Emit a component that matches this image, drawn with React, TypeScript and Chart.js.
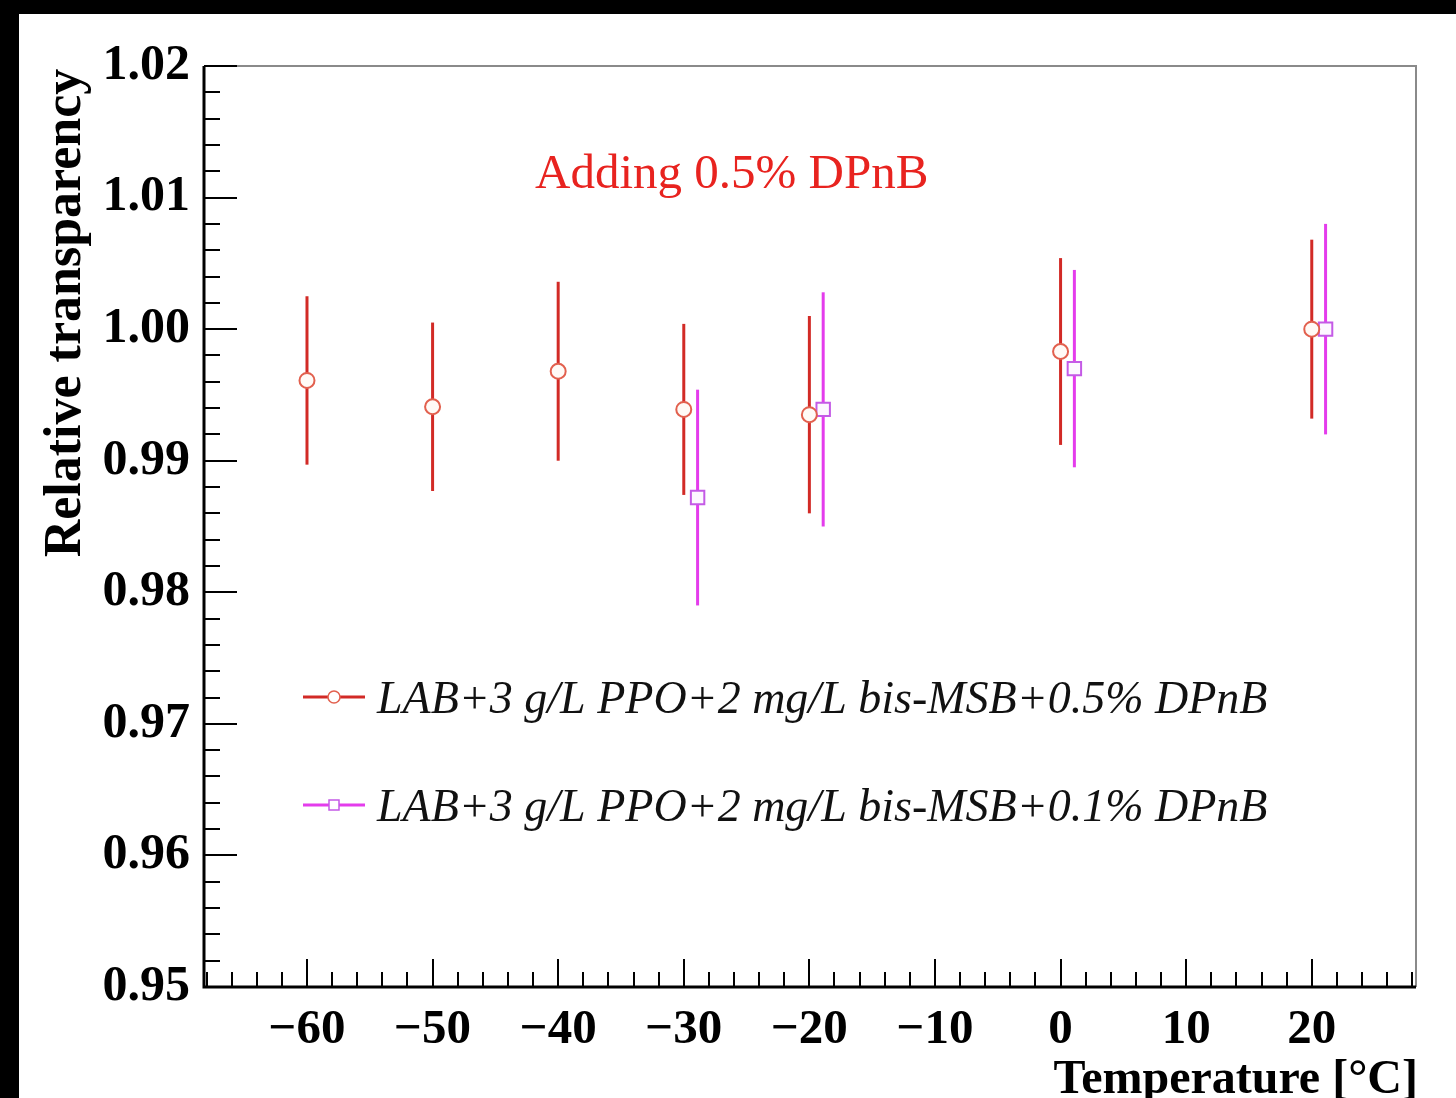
import React, { useEffect, useRef } from 'react';
import { Chart, registerables } from 'chart.js';

Chart.register(...registerables);

// ---- data ----
const redTemps = [-60, -50, -40, -30, -20, 0, 20];
const redValues = [0.9961, 0.9941, 0.9968, 0.9939, 0.9935, 0.9983, 1.0];
const redErrors = [0.0064, 0.0064, 0.0068, 0.0065, 0.0075, 0.0071, 0.0068];

const magTemps = [-28.9, -18.9, 1.1, 21.1];
const magValues = [0.9872, 0.9939, 0.997, 1.0];
const magErrors = [0.0082, 0.0089, 0.0075, 0.008];

const xTickValues = [-60, -50, -40, -30, -20, -10, 0, 10, 20];
const yTickValues = [0.95, 0.96, 0.97, 0.98, 0.99, 1.0, 1.01, 1.02];

const seriesLabels = [
  'LAB+3 g/L PPO+2 mg/L bis-MSB+0.5% DPnB',
  'LAB+3 g/L PPO+2 mg/L bis-MSB+0.1% DPnB',
];
const annotationText = 'Adding 0.5% DPnB';
const xTitle = 'Temperature [°C]';
const yTitle = 'Relative transparency';

// ---- styles ----
const FONT = '"Liberation Serif", "Times New Roman", serif';
const RED_LINE = '#d22a26';
const RED_MARK = '#e2604e';
const MAG_LINE = '#e43cec';
const MAG_MARK = '#c45ae6';

const errorBarPlugin = {
  id: 'errorBars',
  beforeDatasetsDraw(chart: any) {
    const { ctx, scales } = chart;
    const xs = scales.x;
    const ys = scales.y;
    const series = [
      { t: redTemps, v: redValues, e: redErrors, c: RED_LINE },
      { t: magTemps, v: magValues, e: magErrors, c: MAG_LINE },
    ];
    ctx.save();
    ctx.lineWidth = 3;
    for (const s of series) {
      ctx.strokeStyle = s.c;
      for (let i = 0; i < s.t.length; i++) {
        const px = xs.getPixelForValue(s.t[i]);
        const y1 = ys.getPixelForValue(s.v[i] + s.e[i]);
        const y2 = ys.getPixelForValue(s.v[i] - s.e[i]);
        ctx.beginPath();
        ctx.moveTo(px, y1);
        ctx.lineTo(px, y2);
        ctx.stroke();
      }
    }
    ctx.restore();
  },
};

const framePlugin = {
  id: 'frame',
  beforeDraw(chart: any) {
    const { ctx, width, height } = chart;
    ctx.save();
    ctx.fillStyle = '#000';
    ctx.fillRect(0, 0, width, height);
    ctx.fillStyle = '#fff';
    ctx.fillRect(19, 14, width - 19, height - 14);
    ctx.restore();
  },
  afterDraw(chart: any) {
    const { ctx, chartArea, scales } = chart;
    const { left, right, top, bottom } = chartArea;
    const xs = scales.x;
    const ys = scales.y;
    ctx.save();
    // top & right frame (grey)
    ctx.strokeStyle = '#8a8a8a';
    ctx.lineWidth = 2;
    ctx.beginPath();
    ctx.moveTo(left, top);
    ctx.lineTo(right, top);
    ctx.lineTo(right, bottom);
    ctx.stroke();
    // axis ticks
    ctx.strokeStyle = '#000';
    ctx.lineWidth = 2;
    // y ticks every 0.002
    for (let k = Math.round(ys.min * 500); k <= Math.round(ys.max * 500); k++) {
      const v = k / 500;
      const major = k % 5 === 0;
      const py = Math.round(ys.getPixelForValue(v));
      ctx.beginPath();
      ctx.moveTo(left, py);
      ctx.lineTo(left + (major ? 33 : 16), py);
      ctx.stroke();
    }
    // x ticks every 2
    for (let k = Math.ceil(xs.min / 2); k <= Math.floor(xs.max / 2); k++) {
      const v = k * 2;
      const major = v % 10 === 0;
      const px = Math.round(xs.getPixelForValue(v));
      ctx.beginPath();
      ctx.moveTo(px, bottom);
      ctx.lineTo(px, bottom - (major ? 28 : 15));
      ctx.stroke();
    }
    // left & bottom axis lines
    ctx.lineWidth = 3;
    ctx.beginPath();
    ctx.moveTo(left, top);
    ctx.lineTo(left, bottom);
    ctx.lineTo(right, bottom);
    ctx.stroke();

    // annotation
    ctx.fillStyle = '#e8231f';
    ctx.font = `49px ${FONT}`;
    ctx.textAlign = 'left';
    ctx.textBaseline = 'alphabetic';
    ctx.fillText(annotationText, 535, 188);

    // legend
    const rows = [
      { y: 697, c: RED_LINE, m: RED_MARK, shape: 'circle' },
      { y: 805, c: MAG_LINE, m: MAG_MARK, shape: 'rect' },
    ];
    rows.forEach((r, i) => {
      ctx.strokeStyle = r.c;
      ctx.lineWidth = 3;
      ctx.beginPath();
      ctx.moveTo(303, r.y);
      ctx.lineTo(365, r.y);
      ctx.stroke();
      ctx.lineWidth = 1.5;
      ctx.strokeStyle = r.m;
      ctx.fillStyle = '#fff';
      ctx.beginPath();
      if (r.shape === 'circle') ctx.arc(334, r.y, 6, 0, Math.PI * 2);
      else ctx.rect(329, r.y - 5, 10, 10);
      ctx.fill();
      ctx.stroke();
      ctx.fillStyle = '#111';
      ctx.font = `italic 46px ${FONT}`;
      ctx.textBaseline = 'alphabetic';
      ctx.fillText(seriesLabels[i], 377, r.y + 16);
    });

    // axis titles
    ctx.fillStyle = '#000';
    ctx.font = `bold 48px ${FONT}`;
    ctx.textAlign = 'right';
    ctx.fillText(xTitle, 1418, 1093);

    ctx.save();
    ctx.translate(80, 313);
    ctx.rotate(-Math.PI / 2);
    ctx.textAlign = 'center';
    ctx.font = `bold 52px ${FONT}`;
    ctx.fillText(yTitle, 0, 0);
    ctx.restore();

    ctx.restore();
  },
};

const fmtX = (v: number) => (v < 0 ? '\u2212' + Math.abs(v) : String(v));

export default function App() {
  const ref = useRef<HTMLCanvasElement | null>(null);

  useEffect(() => {
    if (!ref.current) return;
    const chart = new Chart(ref.current, {
      type: 'scatter',
      data: {
        datasets: [
          {
            label: seriesLabels[0],
            data: redTemps.map((t, i) => ({ x: t, y: redValues[i] })),
            pointStyle: 'circle',
            pointRadius: 7.5,
            pointBorderWidth: 2,
            pointBorderColor: RED_MARK,
            pointBackgroundColor: '#fffaf6',
            showLine: false,
          },
          {
            label: seriesLabels[1],
            data: magTemps.map((t, i) => ({ x: t, y: magValues[i] })),
            pointStyle: 'rect',
            pointRadius: 9.5,
            pointBorderWidth: 2,
            pointBorderColor: MAG_MARK,
            pointBackgroundColor: '#fdf8ff',
            showLine: false,
          },
        ],
      },
      options: {
        animation: false,
        responsive: false,
        devicePixelRatio: 1,
        layout: { padding: { left: 0, top: 66, right: 40, bottom: 0 } },
        plugins: {
          legend: { display: false },
          tooltip: { enabled: false },
        },
        scales: {
          x: {
            type: 'linear',
            min: -68.2,
            max: 28.3,
            afterBuildTicks: (s: any) => {
              s.ticks = xTickValues.map((v) => ({ value: v }));
            },
            afterFit: (s: any) => {
              s.height = 111;
            },
            grid: { display: false, drawTicks: false },
            border: { display: false },
            ticks: {
              autoSkip: false,
              maxRotation: 0,
              padding: 14,
              color: '#000',
              font: { family: FONT, size: 49, weight: 'bold' },
              callback: (v: any) => fmtX(Number(v)),
            },
          },
          y: {
            type: 'linear',
            min: 0.95,
            max: 1.02,
            afterBuildTicks: (s: any) => {
              s.ticks = yTickValues.map((v) => ({ value: v }));
            },
            afterFit: (s: any) => {
              s.width = 204;
            },
            grid: { display: false, drawTicks: false },
            border: { display: false },
            ticks: {
              autoSkip: false,
              padding: 14,
              color: '#000',
              font: { family: FONT, size: 50, weight: 'bold' },
              callback: (v: any) => Number(v).toFixed(2),
            },
          },
        },
      } as any,
      plugins: [framePlugin, errorBarPlugin],
    });
    return () => chart.destroy();
  }, []);

  return (
    <div style={{ position: 'absolute', left: 0, top: 0, width: 1456, height: 1098 }}>
      <canvas ref={ref} width={1456} height={1098} style={{ display: 'block' }} />
    </div>
  );
}
